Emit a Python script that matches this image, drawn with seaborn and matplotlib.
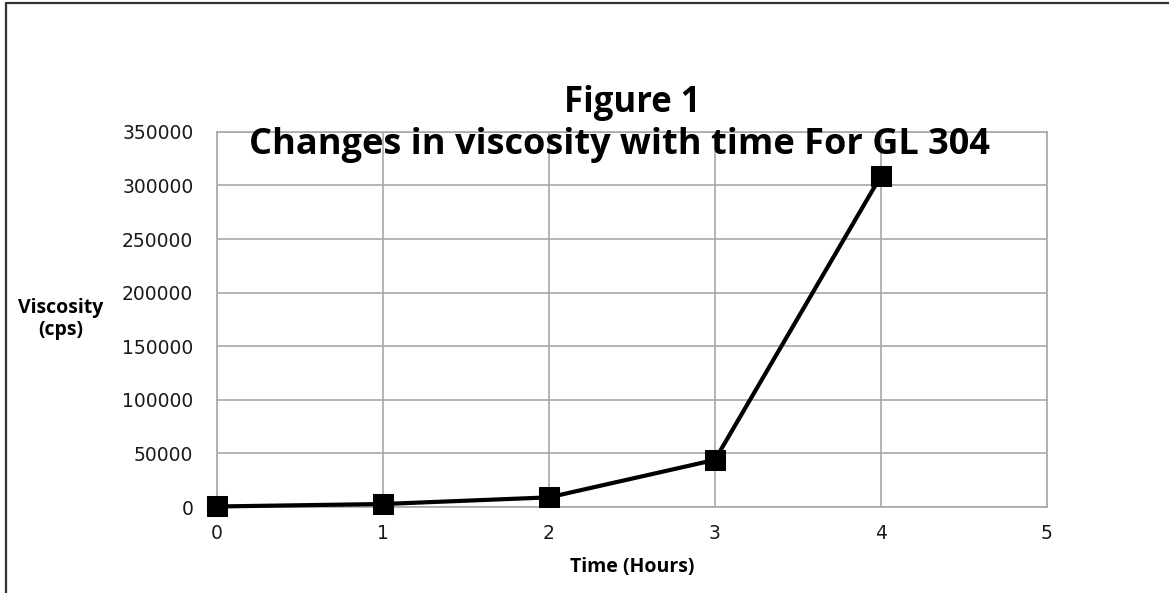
import matplotlib
matplotlib.use("Agg")
import matplotlib.pyplot as plt
import seaborn as sns
import pandas as pd
from matplotlib.lines import Line2D

# values
hours = [0, 1, 2, 3, 4]
viscosity = [500, 2800, 9000, 44000, 309000]
x_ticks = [0, 1, 2, 3, 4, 5]
y_ticks = [0, 50000, 100000, 150000, 200000, 250000, 300000, 350000]

data = pd.DataFrame({"Time": hours, "Viscosity": viscosity})

sns.set_style("white")
plt.rcParams["font.family"] = ["DejaVu Sans"]
plt.rcParams["text.color"] = "black"

fig = plt.figure(figsize=(11.69, 5.93), dpi=100)
ax = fig.add_axes([0.1856, 0.145, 0.7100, 0.6326])

sns.lineplot(data=data, x="Time", y="Viscosity", ax=ax, color="black",
             linewidth=3, marker="s", markersize=14, markeredgecolor="black",
             zorder=5)

ax.set_xlim(0, 5)
ax.set_ylim(0, 350000)
ax.set_xticks(x_ticks)
ax.set_yticks(y_ticks)
ax.set_xticklabels([str(t) for t in x_ticks])
ax.set_yticklabels([str(t) for t in y_ticks])
ax.tick_params(axis="both", labelsize=13.5, colors="#a0a0a0", labelcolor="#1a1a1a",
               length=6, width=1.2, direction="out")
ax.tick_params(axis="x", pad=6)
ax.tick_params(axis="y", pad=11)
ax.grid(True, color="#a8a8a8", linewidth=1.2)
for side in ["left", "bottom", "top", "right"]:
    ax.spines[side].set_color("#a8a8a8")
    ax.spines[side].set_linewidth(1.2)
ax.set_axisbelow(True)
for line in ax.lines:
    line.set_clip_on(False)

ax.set_xlabel("Time (Hours)", fontsize=14, fontweight="bold", color="black",
              family=["Open Sans", "DejaVu Sans"], labelpad=10)
ax.set_ylabel("")
fig.text(0.052, 0.462, "Viscosity\n(cps)", ha="center", va="center",
         fontsize=14, fontweight="bold", family=["Open Sans", "DejaVu Sans"],
         linespacing=1.15, color="black")

fig.text(0.541, 0.826, "Figure 1", ha="center", va="center", fontsize=25,
         fontweight="bold", family=["Open Sans", "DejaVu Sans"], color="black")
fig.text(0.530, 0.755, "Changes in viscosity with time For GL 304", ha="center",
         va="center", fontsize=26, fontweight="bold", color="black",
         family=["Open Sans", "DejaVu Sans"])

# chart border (left and top edges visible in the reference)
fig.add_artist(Line2D([0.0055, 0.0055], [0.0, 0.995], transform=fig.transFigure,
                      color="#333333", linewidth=1.6))
fig.add_artist(Line2D([0.0055, 1.0], [0.995, 0.995], transform=fig.transFigure,
                      color="#333333", linewidth=1.6))

fig.savefig("out.png", dpi=100, facecolor="white")
